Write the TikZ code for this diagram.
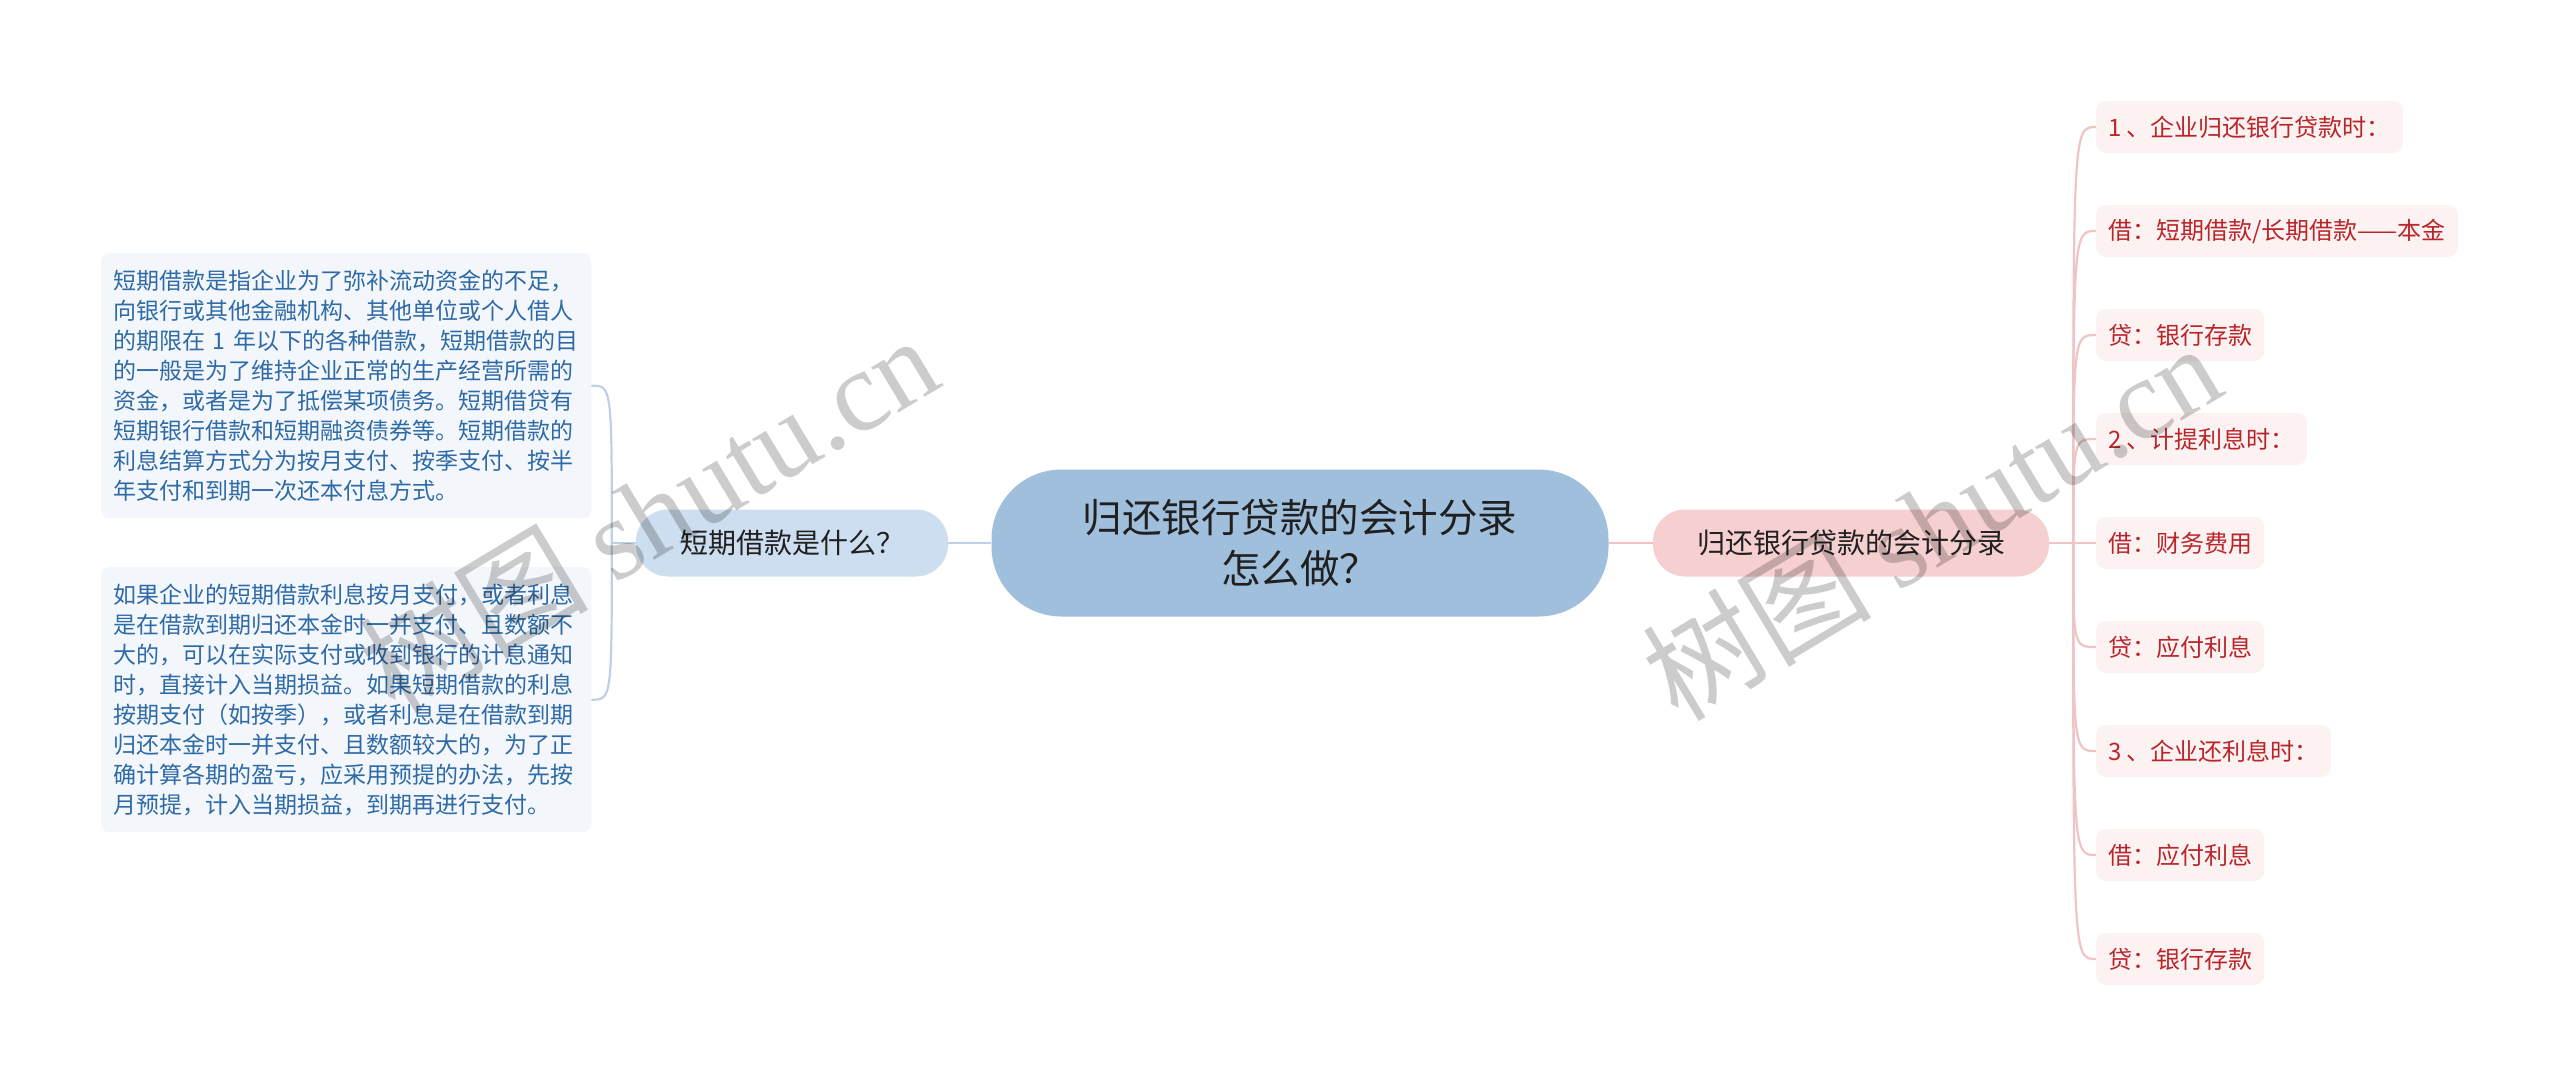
\documentclass[tikz,border=0pt]{standalone}
\usepackage{fontspec}
\setmainfont{Noto Sans CJK SC}
\newfontfamily\wmfont{Liberation Serif}

\definecolor{rootfill}{HTML}{9FBFDC}
\definecolor{leftfill}{HTML}{CCDEEF}
\definecolor{rightfill}{HTML}{F6CFD0}
\definecolor{leftline}{HTML}{BCD1E6}
\definecolor{rightline}{HTML}{F0C3C5}
\definecolor{notefill}{HTML}{F3F7FC}
\definecolor{notetext}{HTML}{2E6AA6}
\definecolor{leaffill}{HTML}{FDF2F2}
\definecolor{leaftext}{HTML}{BA252B}
\definecolor{darktext}{HTML}{202020}

\newcommand*\leafx{2096}
\newcommand*\leaftop{127}
\newcommand*\leafgap{104}
\tikzset{topic/.style 2 args={
    fill=#1,
    text=darktext,
    rectangle,
    rounded corners=32,
    font=\fontsize{28}{34}\selectfont,
    inner xsep=44,
    minimum height=#2
},
note/.style={
    fill=notefill,
    text=notetext,
    rounded corners=8,
    anchor=north west,
    font=\fontsize{23}{30}\selectfont,
    text width=466,
    align=left,
    inner xsep=12,
    minimum height=265
},
leaf/.style={
    fill=leaffill,
    text=leaftext,
    rounded corners=10,
    anchor=west,
    font=\fontsize{24}{28}\selectfont,
    inner xsep=12,
    minimum height=52
},
branch/.style={line width=2.2pt, draw=#1},
wmark/.style={text=black, text opacity=0.2, font=\fontsize{115}{115}\selectfont}
}

\begin{document}
\begin{tikzpicture}[x=1pt,y=-1pt]

    % Page and background.
    \fill[white] (0,0) rectangle (2560,1085);

    % The main topic in the middle.
    \node[topic={rootfill}{147}, rounded corners=70, minimum width=617,
          font=\fontsize{39.5}{51}\selectfont, align=center] (root) at (1300,543)
        {归还银行贷款的会计分录\\怎么做？};

    % Left side.
    \node[topic={leftfill}{67}] (lbr) at (792,543) {短期借款是什么？};
    \node[note] (note1) at (101,253) {短期借款是指企业为了弥补流动资金的不足，\\
        向银行或其他金融机构、其他单位或个人借人\\
        的期限在 1 年以下的各种借款，短期借款的目\\
        的一般是为了维持企业正常的生产经营所需的\\
        资金，或者是为了抵偿某项债务。短期借贷有\\
        短期银行借款和短期融资债券等。短期借款的\\
        利息结算方式分为按月支付、按季支付、按半\\
        年支付和到期一次还本付息方式。};
    \node[note] (note2) at (101,567) {如果企业的短期借款利息按月支付，或者利息\\
        是在借款到期归还本金时一并支付、且数额不\\
        大的，可以在实际支付或收到银行的计息通知\\
        时，直接计入当期损益。如果短期借款的利息\\
        按期支付（如按季），或者利息是在借款到期\\
        归还本金时一并支付、且数额较大的，为了正\\
        确计算各期的盈亏，应采用预提的办法，先按\\
        月预提，计入当期损益，到期再进行支付。};

    % Right side.
    \node[topic={rightfill}{67}] (rbr) at (1851,543) {归还银行贷款的会计分录};
    \foreach \i/\txt in {1/{1 、企业归还银行贷款时：},2/{借：短期借款/长期借款——本金},
                         3/{贷：银行存款},4/{2 、计提利息时：},5/{借：财务费用},
                         6/{贷：应付利息},7/{3 、企业还利息时：},8/{借：应付利息},
                         9/{贷：银行存款}}
        \node[leaf] (leaf\i) at (\leafx,{\leaftop+(\i-1)*\leafgap}) {\txt};

    % Draw the connectors.
    \draw[branch=leftline] (root.west) -- (lbr.east);
    \draw[branch=rightline] (root.east) -- (rbr.west);

    \coordinate (ltrunk) at ([xshift=-24]lbr.west);
    \draw[branch=leftline] (lbr.west) -- (ltrunk);
    \foreach \n in {note1,note2}
        \draw[branch=leftline] (ltrunk) .. controls (ltrunk |- \n.east) .. (\n.east);

    \coordinate (rtrunk) at ([xshift=24]rbr.east);
    \draw[branch=rightline] (rbr.east) -- (leaf5.west);
    \foreach \i in {1,2,3,4,6,7,8,9}
        \draw[branch=rightline] (rtrunk) .. controls (rtrunk |- leaf\i.west) .. (leaf\i.west);

    % Watermarks.
    \node[wmark, rotate=31] (wm1) at (648,513) {树图 {\wmfont shutu.cn}};
    \node[wmark, rotate=31] (wm2) at (1931,521) {树图 {\wmfont shutu.cn}};

\end{tikzpicture}
\end{document}
